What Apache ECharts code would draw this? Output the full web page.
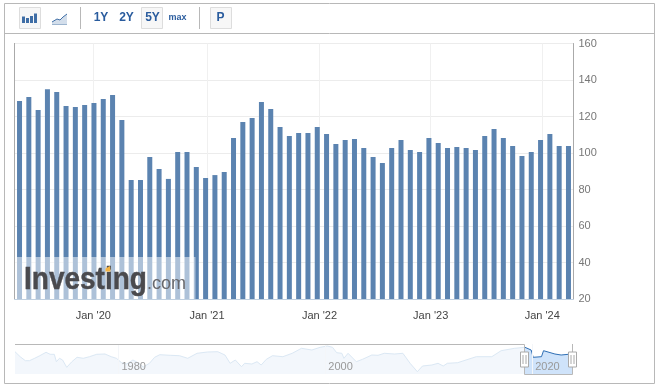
<!DOCTYPE html>
<html>
<head>
<meta charset="utf-8">
<style>
  html, body { margin: 0; padding: 0; background: #fff; }
  #root { width: 659px; height: 384px; }
</style>
<script src="https://cdn.jsdelivr.net/npm/echarts@6/dist/echarts.min.js"></script>
</head>
<body>
<div id="root"></div>
<script>
// monthly bars, May 2019 .. Apr 2024
const months = ['2019-05','2019-06','2019-07','2019-08','2019-09','2019-10','2019-11','2019-12',
  '2020-01','2020-02','2020-03','2020-04','2020-05','2020-06','2020-07','2020-08','2020-09','2020-10','2020-11','2020-12',
  '2021-01','2021-02','2021-03','2021-04','2021-05','2021-06','2021-07','2021-08','2021-09','2021-10','2021-11','2021-12',
  '2022-01','2022-02','2022-03','2022-04','2022-05','2022-06','2022-07','2022-08','2022-09','2022-10','2022-11','2022-12',
  '2023-01','2023-02','2023-03','2023-04','2023-05','2023-06','2023-07','2023-08','2023-09','2023-10','2023-11','2023-12',
  '2024-01','2024-02','2024-03','2024-04'];
const values = [128.5,130.7,123.6,135,133.4,125.8,125.2,126.3,
  127.4,129.6,131.8,118.1,85.2,85.2,97.8,91.2,85.8,100.5,100.5,92.3,
  86.3,87.9,89.6,108.2,117,119.2,127.9,124.1,114.2,109.3,111,111,
  114.2,110.4,104.9,107.1,107.7,102.7,97.8,94.5,102.7,107.1,101.6,100.5,
  108.2,105.5,102.7,103.3,102.7,101.6,109.3,113.2,108.2,103.8,98.4,100.5,
  107.1,110.4,103.8,103.8];

// year ticks sit between bars on the ordinal axis
const yearTicks = [7.93,20.15,32.24,44.19,56.18];
const yearLabels = ["Jan '20","Jan '21","Jan '22","Jan '23","Jan '24"];

// navigator overview
const navYears = [1970,1970.5,1971,1971.4,1971.9,1972.4,1973,1973.4,1973.8,1974,1974.3,1974.6,1975,1975.5,1976,1976.6,1977.2,1977.9,1978.7,1979.3,1979.8,1980.3,1980.8,1981.4,1981.9,1982.4,1983,1983.5,1984,1985,1985.9,1986.7,1987.6,1988.6,1989.6,1990.3,1990.8,1991.3,1991.9,1992.2,1992.9,1993.4,1993.8,1994.3,1994.9,1995.9,1996.8,1997.7,1998.7,1999.5,2000.2,2000.7,2001.1,2001.6,2001.8,2002.2,2003,2003.6,2004.5,2005.1,2005.7,2006.7,2007.5,2008.2,2008.9,2009.4,2010.3,2010.9,2011.4,2011.8,2012.8,2013.6,2014.6,2016.1,2017,2018.3,2019.3];
const navLevels = [22.3,17.3,13.3,13.3,15.7,18.3,21.7,19.7,19.7,12.3,15.7,14,6.7,12.3,16.7,15.7,17.3,19.7,20,17.3,15.7,11.3,10,14,11.3,7,10.7,16.7,19.3,18.7,18.3,15.7,20.7,22,22.3,19,10.7,14,7.3,10.7,10,12.3,9,14.7,18.3,17.3,20.7,25.7,24,26.7,28,26.7,21.3,20.7,15.7,20.7,12.3,14.7,19,18.7,20.7,20,20.7,10.7,2.3,8,9,10.7,8,10.7,11.3,14,17.3,17.3,23.3,25.7,26.7];
const recentYears = [2019.3,2019.4,2019.9,2020.1,2020.9,2021.1,2022.2,2022.8,2023.5,2023.9];
const recentLevels = [26.7,24.7,24,16.7,17.3,23.3,20,19,19.7,20.3];
const navTicks = [1980,2000,2020];

const blue = '#5b83b0';
const btnBlue = '#2a5c9e';
const frame = '#b8b8b8';

function zip(a, b) {
  return a.map(function (v, i) { return [v, b[i]]; });
}
function line(x1, y1, x2, y2, color) {
  return { type: 'line', shape: { x1: x1, y1: y1, x2: x2, y2: y2 }, style: { stroke: color, lineWidth: 1 }, z: 50 };
}
function rect(x, y, w, h, fill, stroke) {
  return { type: 'rect', shape: { x: x, y: y, width: w, height: h }, style: { fill: fill, stroke: stroke, lineWidth: stroke ? 1 : 0 }, z: 50 };
}
function btnText(s, cx, size) {
  return { type: 'text', x: cx, y: 18, z: 51, style: { text: s, fill: btnBlue, font: 'bold ' + size + 'px "Liberation Sans"', align: 'center', verticalAlign: 'middle' } };
}

const toolbar = [
  rect(4.5, 3.5, 650, 380, 'none', frame),
  line(4.5, 33.5, 654.5, 33.5, frame),
  rect(19.5, 7.5, 21, 21, '#f7f7f7', '#dddddd'),
  rect(22, 16.5, 3, 6.5, '#3f6ea6'),
  rect(26, 18, 3, 5, '#3f6ea6'),
  rect(30, 16, 3, 7, '#3f6ea6'),
  rect(34, 13.5, 3, 9.5, '#3f6ea6'),
  { type: 'polygon', shape: { points: [[52, 22], [57, 19], [60, 20], [63, 17], [67, 14], [67, 24.5], [52, 24.5]] }, style: { fill: '#d3deeb' }, z: 50 },
  { type: 'polyline', shape: { points: [[52, 22], [57, 19], [60, 20], [63, 17], [67, 14]] }, style: { stroke: '#3f6ea6', lineWidth: 1, fill: null }, z: 51 },
  line(52, 24.5, 67, 24.5, '#9db5cf'),
  line(80.5, 7, 80.5, 29, frame),
  btnText('1Y', 101, 12),
  btnText('2Y', 126.5, 12),
  rect(141.5, 7.5, 21, 21, '#f7f7f7', '#dddddd'),
  btnText('5Y', 152.5, 12),
  btnText('max', 177.5, 9),
  line(199.5, 7, 199.5, 29, frame),
  rect(210.5, 7.5, 21, 21, '#f7f7f7', '#dddddd'),
  btnText('P', 220.5, 12),
  line(14.5, 43, 14.5, 299, '#aaaaaa')
];

const watermark = [
  { type: 'rect', shape: { x: 15, y: 257, width: 180.5, height: 42 }, style: { fill: 'rgba(255,255,255,0.5)' }, z: 100 },
  { type: 'text', x: 24, y: 295.5, scaleY: 1.1, z: 101, style: { text: 'Investing', fill: '#4a4a4e', stroke: '#4a4a4e', lineWidth: 0.4, font: 'bold 28px "Liberation Sans"', align: 'left', verticalAlign: 'bottom' } },
  { type: 'polygon', shape: { points: [[105.5, 268.5], [110, 266], [110.5, 271.5], [105.5, 271.5]] }, style: { fill: '#f5b341' }, z: 102 },
  { type: 'text', x: 147, y: 293, z: 101, style: { text: '.com', fill: '#68686c', font: '18px "Liberation Sans"', align: 'left', verticalAlign: 'bottom' } }
];

function handle(x) {
  return [
    rect(x - 4, 352, 8, 15, '#fff', '#aaaaaa'),
    line(x - 1.5, 355, x - 1.5, 364, '#aaaaaa'),
    line(x + 1.5, 355, x + 1.5, 364, '#aaaaaa')
  ];
}

const navigator = [
  { type: 'polyline', shape: { points: [[15, 344.5], [524.5, 344.5], [524.5, 374.5], [572.5, 374.5], [572.5, 344]] }, style: { stroke: frame, lineWidth: 1, fill: null }, z: 50 }
].concat(handle(524.5), handle(572.5));

let root = document.getElementById('root');
let myCharts = echarts.init(root);
let option = {
  animation: false,
  backgroundColor: '#fff',
  textStyle: { fontFamily: '"Liberation Sans"' },
  grid: [
    { left: 14.5, right: 85.5, top: 43.5, height: 255.5 },
    { left: 15, right: 86.5, top: 344, height: 30 }
  ],
  xAxis: [
    {
      type: 'value',
      gridIndex: 0,
      min: -0.54,
      max: 59.54,
      axisLine: { show: true, onZero: false, lineStyle: { color: '#c0d0e0' } },
      axisTick: { show: false, customValues: yearTicks },
      splitLine: { show: true, lineStyle: { color: '#f0f0f0' } },
      axisLabel: {
        customValues: yearTicks,
        margin: 11,
        fontSize: 11,
        color: '#444',
        formatter: function (v) {
          return yearLabels[yearTicks.indexOf(v)];
        }
      }
    },
    {
      type: 'value',
      gridIndex: 1,
      min: 1970,
      max: 2023.9,
      z: 10,
      axisLine: { show: false, onZero: false },
      axisTick: { show: false, customValues: navTicks },
      splitLine: { show: true, lineStyle: { color: '#f4f6f9' } },
      axisLabel: {
        inside: true,
        customValues: navTicks,
        fontSize: 11,
        color: '#999',
        margin: 2,
        align: 'left',
        padding: [0, 0, 0, 3],
        formatter: function (v) { return String(v); }
      }
    }
  ],
  yAxis: [
    {
      type: 'value',
      gridIndex: 0,
      position: 'right',
      min: 20,
      max: 160,
      interval: 20,
      axisLine: { show: true, onZero: false, lineStyle: { color: '#aaaaaa' } },
      axisTick: { show: false },
      splitLine: { show: true, lineStyle: { color: '#ececec' } },
      axisLabel: { fontSize: 11, color: '#777', margin: 5 }
    },
    {
      type: 'value',
      gridIndex: 1,
      min: 0,
      max: 30,
      show: false,
      splitLine: { show: false }
    }
  ],
  series: [
    {
      name: 'monthly',
      type: 'bar',
      xAxisIndex: 0,
      yAxisIndex: 0,
      barWidth: 5,
      itemStyle: { color: blue },
      data: values.map(function (v, i) { return [i, v]; })
    },
    {
      name: 'history',
      type: 'line',
      xAxisIndex: 1,
      yAxisIndex: 1,
      symbol: 'none',
      lineStyle: { color: '#dbe8f4', width: 1 },
      areaStyle: { color: '#f3f7fc', opacity: 1 },
      data: zip(navYears, navLevels)
    },
    {
      name: 'recent',
      type: 'line',
      xAxisIndex: 1,
      yAxisIndex: 1,
      symbol: 'none',
      lineStyle: { color: '#2f6fb5', width: 1 },
      areaStyle: { color: '#cfe3fa', opacity: 1 },
      data: zip(recentYears, recentLevels)
    }
  ],
  graphic: { elements: toolbar.concat(watermark, navigator) }
};
myCharts.setOption(option);
</script>
</body>
</html>
